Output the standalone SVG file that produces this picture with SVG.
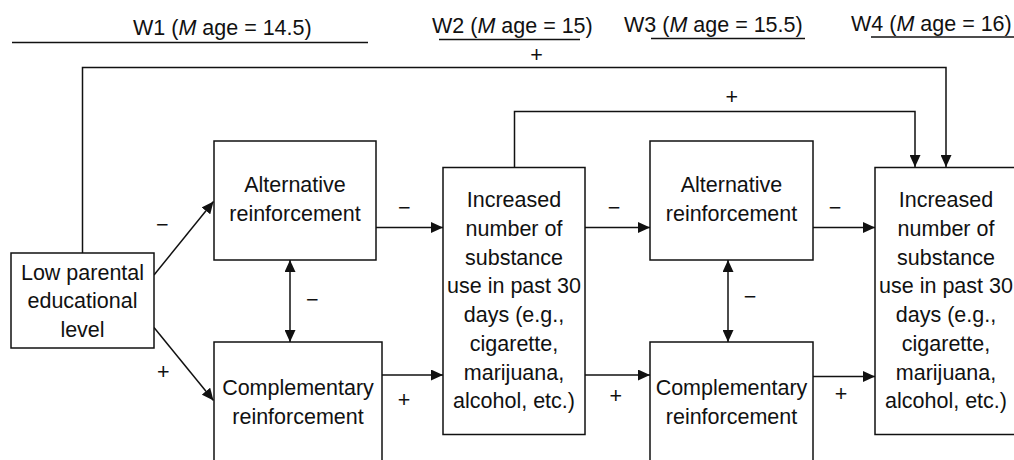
<svg xmlns="http://www.w3.org/2000/svg" width="1014" height="460" viewBox="0 0 1014 460">
<defs>
<marker id="ah" markerWidth="12" markerHeight="11" refX="12" refY="5.5" orient="auto" markerUnits="userSpaceOnUse">
<path d="M0,0 L12,5.5 L0,11 Z" fill="#111"/>
</marker>
<marker id="ahs" markerWidth="12" markerHeight="11" refX="0" refY="5.5" orient="auto" markerUnits="userSpaceOnUse">
<path d="M12,0 L0,5.5 L12,11 Z" fill="#111"/>
</marker>
<style>
text{font-family:"Liberation Sans",Arial,sans-serif;font-size:21.5px;fill:#111}
.c{text-anchor:middle}
.box{fill:#fff;stroke:#111;stroke-width:1.5}
.ln{fill:none;stroke:#111;stroke-width:1.5}
.arr{fill:none;stroke:#111;stroke-width:1.5;marker-end:url(#ah)}
.dbl{fill:none;stroke:#111;stroke-width:1.5;marker-end:url(#ah);marker-start:url(#ahs)}
</style>
</defs>
<rect width="1014" height="460" fill="#fff"/>
<g id="headers">
<text x="133" y="35">W1 (<tspan font-style="italic">M</tspan> age = 14.5)</text>
<line class="ln" x1="12" y1="42.5" x2="368" y2="42.5"/>
<text x="432" y="33">W2 (<tspan font-style="italic">M</tspan> age = 15)</text>
<line class="ln" x1="439" y1="39.5" x2="580" y2="39.5"/>
<text x="624" y="32">W3 (<tspan font-style="italic">M</tspan> age = 15.5)</text>
<line class="ln" x1="651" y1="38.5" x2="805" y2="38.5"/>
<text x="851" y="31">W4 (<tspan font-style="italic">M</tspan> age = 16)</text>
<line class="ln" x1="871" y1="37" x2="1014" y2="37"/>
</g>
<g id="connectors">
<polyline class="arr" points="82.5,253 82.5,67.5 946,67.5 946,167"/>
<polyline class="arr" points="514.5,167 514.5,111.5 915,111.5 915,167"/>
<line class="arr" x1="154" y1="275" x2="213.5" y2="201.5"/>
<line class="arr" x1="154" y1="327.5" x2="213.5" y2="400.5"/>
<line class="dbl" x1="290" y1="260" x2="290" y2="342"/>
<line class="arr" x1="376" y1="227.5" x2="443" y2="227.5"/>
<line class="arr" x1="382" y1="375" x2="443" y2="375"/>
<line class="arr" x1="585" y1="227.5" x2="650" y2="227.5"/>
<line class="arr" x1="585" y1="375" x2="650" y2="375"/>
<line class="dbl" x1="728" y1="260" x2="728" y2="342"/>
<line class="arr" x1="813" y1="227.5" x2="875" y2="227.5"/>
<line class="arr" x1="813" y1="376.5" x2="875" y2="376.5"/>
</g>
<g id="labels">
<text class="c" x="536.5" y="62">+</text>
<text class="c" x="731.7" y="104">+</text>
<text class="c" x="162.3" y="231.5">−</text>
<text class="c" x="163.3" y="379">+</text>
<text class="c" x="404.3" y="214.5">−</text>
<text class="c" x="404" y="406.5">+</text>
<text class="c" x="312.3" y="306.5">−</text>
<text class="c" x="614" y="214.5">−</text>
<text class="c" x="615.7" y="403">+</text>
<text class="c" x="835" y="214.5">−</text>
<text class="c" x="841" y="400.5">+</text>
<text class="c" x="750" y="304">−</text>
</g>
<g id="low-parental">
<rect class="box" x="11" y="253" width="143" height="95"/>
<text class="c" x="82.5" y="279.5">Low parental</text>
<text class="c" x="82.5" y="308">educational</text>
<text class="c" x="82.5" y="336.5">level</text>
</g>
<g id="alt-w1">
<rect class="box" x="214" y="141" width="162" height="119"/>
<text class="c" x="295" y="192.3">Alternative</text>
<text class="c" x="295" y="220.7">reinforcement</text>
</g>
<g id="comp-w1">
<rect class="box" x="214" y="342" width="168" height="130"/>
<text class="c" x="298" y="395">Complementary</text>
<text class="c" x="298" y="423.5">reinforcement</text>
</g>
<g id="use-w2">
<rect class="box" x="443" y="167.5" width="142" height="267"/>
<text class="c" x="514" y="207.3">Increased</text>
<text class="c" x="514" y="236">number of</text>
<text class="c" x="514" y="264.7">substance</text>
<text class="c" x="514" y="293.4">use in past 30</text>
<text class="c" x="514" y="322.1">days (e.g.,</text>
<text class="c" x="514" y="350.8">cigarette,</text>
<text class="c" x="514" y="379.5">marijuana,</text>
<text class="c" x="514" y="408.2">alcohol, etc.)</text>
</g>
<g id="alt-w3">
<rect class="box" x="650" y="141" width="163" height="119"/>
<text class="c" x="731.5" y="192.3">Alternative</text>
<text class="c" x="731.5" y="220.7">reinforcement</text>
</g>
<g id="comp-w3">
<rect class="box" x="650" y="342" width="163" height="130"/>
<text class="c" x="731.5" y="395">Complementary</text>
<text class="c" x="731.5" y="423.5">reinforcement</text>
</g>
<g id="use-w4">
<rect class="box" x="875" y="167.5" width="142" height="267"/>
<text class="c" x="946" y="207.3">Increased</text>
<text class="c" x="946" y="236">number of</text>
<text class="c" x="946" y="264.7">substance</text>
<text class="c" x="946" y="293.4">use in past 30</text>
<text class="c" x="946" y="322.1">days (e.g.,</text>
<text class="c" x="946" y="350.8">cigarette,</text>
<text class="c" x="946" y="379.5">marijuana,</text>
<text class="c" x="946" y="408.2">alcohol, etc.)</text>
</g>
</svg>
